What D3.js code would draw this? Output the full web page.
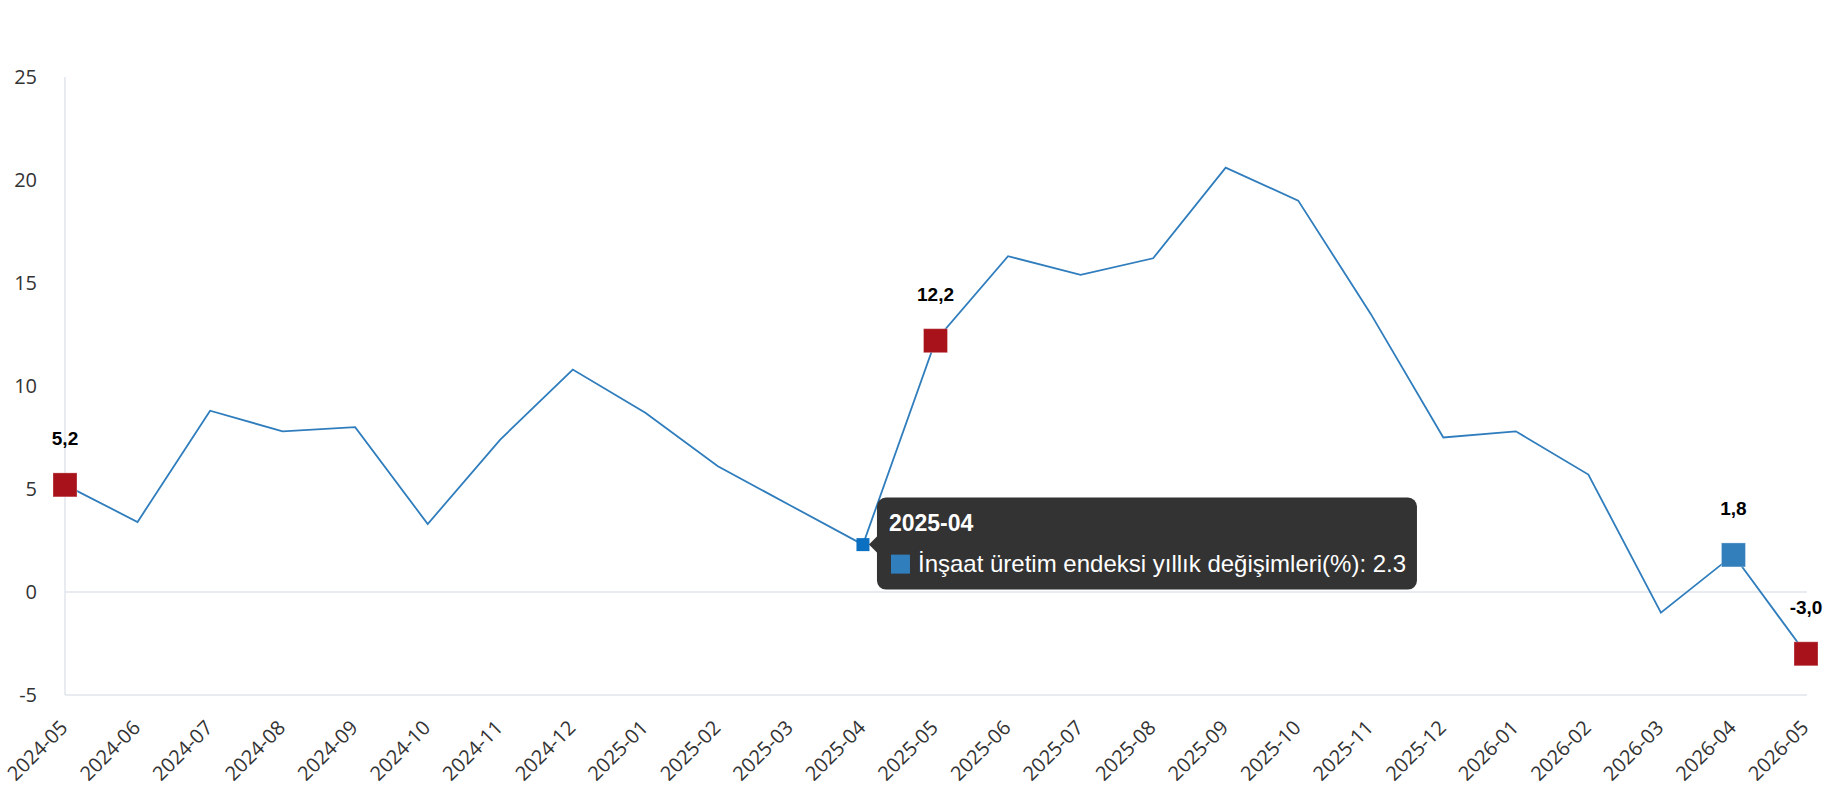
<!DOCTYPE html>
<html>
<head>
<meta charset="utf-8">
<script src="https://cdn.jsdelivr.net/npm/d3@7"></script>
<style>
  body { margin: 0; background: #fff; }
  svg { display: block; }
</style>
</head>
<body>
<div id="chart"></div>
<script>
var months = ["2024-05", "2024-06", "2024-07", "2024-08", "2024-09", "2024-10", "2024-11", "2024-12",
  "2025-01", "2025-02", "2025-03", "2025-04", "2025-05", "2025-06", "2025-07", "2025-08", "2025-09",
  "2025-10", "2025-11", "2025-12", "2026-01", "2026-02", "2026-03", "2026-04", "2026-05"];
var values = [5.2, 3.4, 8.8, 7.8, 8.0, 3.3, 7.4, 10.8, 8.7, 6.1, 4.2, 2.3, 12.2, 16.3, 15.4, 16.2, 20.6,
  19.0, 13.5, 7.5, 7.8, 5.7, -1.0, 1.8, -3.0];
var yTicks = [-5, 0, 5, 10, 15, 20, 25];
var redMonths = ["2024-05", "2025-05", "2026-05"];
var blueMonths = ["2026-04"];
var hoverMonth = "2025-04";
var seriesName = "İnşaat üretim endeksi yıllık değişimleri(%)";

var width = 1830, height = 800;
var margin = { left: 65, right: 24, top: 77, bottom: 105 };

var svg = d3.select("#chart").append("svg").attr("width", width).attr("height", height);

var x = d3.scalePoint().domain(months).range([margin.left, width - margin.right]);
var y = d3.scaleLinear().domain([-5, 25]).range([height - margin.bottom, margin.top]);

var data = months.map(function(m, i) { return { month: m, value: values[i] }; });

// y axis line, zero line and bottom line
svg.append("line")
  .attr("x1", margin.left).attr("x2", margin.left)
  .attr("y1", y(25)).attr("y2", y(-5))
  .attr("stroke", "#e1e4ea").attr("stroke-width", 1.5);

[0, -5].forEach(function(v) {
  svg.append("line")
    .attr("x1", margin.left).attr("x2", x(months[months.length - 1]) + 1)
    .attr("y1", y(v)).attr("y2", y(v))
    .attr("stroke", "#e1e4ea").attr("stroke-width", 1.5);
});

// y tick labels
svg.append("g").selectAll("text").data(yTicks).enter().append("text")
  .attr("x", 37).attr("y", function(d) { return y(d); })
  .attr("dy", "0.36em")
  .attr("text-anchor", "end")
  .attr("font-family", "Open Sans, sans-serif")
  .attr("font-size", 20)
  .attr("fill", "#333")
  .text(function(d) { return d; });

// x tick labels
svg.append("g").selectAll("text").data(months).enter().append("text")
  .attr("transform", function(d) { return "translate(" + (x(d) - 1) + "," + (y(-5) + 29) + ") rotate(-45)"; })
  .attr("text-anchor", "end")
  .attr("dy", "0.35em")
  .attr("font-family", "Open Sans, sans-serif")
  .attr("font-size", 20)
  .attr("fill", "#333")
  .text(function(d) { return d; });

// line
var line = d3.line().x(function(d) { return x(d.month); }).y(function(d) { return y(d.value); });
svg.append("path").datum(data)
  .attr("d", line)
  .attr("fill", "none")
  .attr("stroke", "#2f7dbd")
  .attr("stroke-width", 1.8);

// highlighted markers
var marked = data.filter(function(d) { return redMonths.indexOf(d.month) >= 0 || blueMonths.indexOf(d.month) >= 0; });
var ms = 24;
svg.append("g").selectAll("rect").data(marked).enter().append("rect")
  .attr("x", function(d) { return x(d.month) - ms / 2; })
  .attr("y", function(d) { return y(d.value) - ms / 2; })
  .attr("width", ms).attr("height", ms)
  .attr("fill", function(d) { return redMonths.indexOf(d.month) >= 0 ? "#a8131b" : "#337fbc"; })
  .attr("stroke", "#fff").attr("stroke-opacity", 0.3);

svg.append("g").selectAll("text").data(marked).enter().append("text")
  .attr("x", function(d) { return x(d.month); })
  .attr("y", function(d) { return y(d.value) - 40; })
  .attr("text-anchor", "middle")
  .attr("font-family", "Liberation Sans, Arial, sans-serif")
  .attr("font-weight", "bold")
  .attr("font-size", 19)
  .attr("fill", "#000")
  .text(function(d) { return d.value.toFixed(1).replace(".", ","); });

// hovered point + tooltip
var hv = data.filter(function(d) { return d.month === hoverMonth; })[0];
var hx = x(hv.month), hy = y(hv.value);
svg.append("rect")
  .attr("x", hx - 6.5).attr("y", hy - 6.5)
  .attr("width", 13).attr("height", 13)
  .attr("fill", "#0b70c2");

var tip = svg.append("g").attr("transform", "translate(" + (hx + 6) + "," + hy + ")");
var tl = 8, tw = 540, th = 92;
tip.append("path")
  .attr("d", "M0,0 L" + (tl + 1) + ",-9 L" + (tl + 1) + ",9 Z")
  .attr("fill", "#333");
tip.append("rect")
  .attr("x", tl).attr("y", -47)
  .attr("width", tw).attr("height", th)
  .attr("rx", 9).attr("ry", 9)
  .attr("fill", "#333");
tip.append("text")
  .attr("x", tl + 12).attr("y", -14)
  .attr("font-family", "Liberation Sans, Arial, sans-serif")
  .attr("font-weight", "bold")
  .attr("font-size", 23)
  .attr("fill", "#fff")
  .text(hv.month);
tip.append("rect")
  .attr("x", tl + 14).attr("y", 10)
  .attr("width", 19).attr("height", 19)
  .attr("fill", "#317ebd");
tip.append("text")
  .attr("x", tl + 41).attr("y", 27)
  .attr("font-family", "Liberation Sans, Arial, sans-serif")
  .attr("font-size", 24)
  .attr("fill", "#fff")
  .text(seriesName + ": " + hv.value);
</script>
</body>
</html>
